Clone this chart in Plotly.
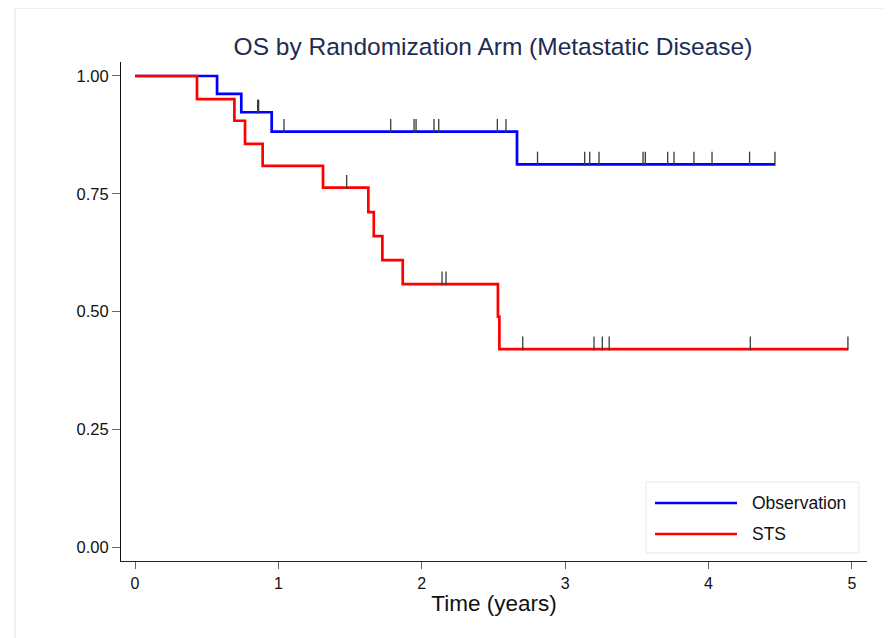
import numpy as np
import plotly.graph_objects as go

# ---------------- data ----------------
obs_times = [0.0, 0.572, 0.741, 0.953, 2.664, 4.463]
obs_surv = [1.0, 0.962, 0.923, 0.882, 0.8125, 0.8125]
obs_censor = [0.855, 0.862, 1.039, 1.783, 1.946, 1.960, 2.085, 2.118, 2.527, 2.587,
              2.807, 3.136, 3.171, 3.236, 3.543, 3.559, 3.715, 3.759, 3.898, 4.024,
              4.286, 4.463]

sts_times = [0.0, 0.432, 0.693, 0.767, 0.890, 1.311, 1.627, 1.665, 1.725, 1.867,
             2.531, 2.541, 4.972]
sts_surv = [1.0, 0.951, 0.905, 0.856, 0.809, 0.763, 0.711, 0.660, 0.609, 0.558,
            0.489, 0.420, 0.420]
sts_censor = [1.476, 2.141, 2.169, 2.704, 3.201, 3.259, 3.307, 4.291, 4.972]

x_ticks = [0, 1, 2, 3, 4, 5]
y_ticks = [0.0, 0.25, 0.5, 0.75, 1.0]
y_tick_labels = ["0.00", "0.25", "0.50", "0.75", "1.00"]
series_names = ["Observation", "STS"]
series_colors = ["#0000ff", "#ff0000"]

title_text = "OS by Randomization Arm (Metastatic Disease)"
x_title = "Time (years)"

# ---------------- layout geometry ----------------
# page shows the figure offset by the body margin (8px)
OFF = 8
W, H = 891 - OFF, 638 - OFF
ML, MT = 121 - OFF, 62 - OFF
MR = W - (867 - OFF)
MB = H - (561 - OFF)
PW, PH = W - ML - MR, H - MT - MB


def px(x):
    # x given in screenshot pixels
    return (x - OFF - ML) / PW


def py(y):
    return (H - MB - (y - OFF)) / PH


def level_at(times, surv, t):
    idx = np.searchsorted(np.asarray(times), t, side="right") - 1
    return np.asarray(surv)[idx]


fig = go.Figure()

curves = [(obs_times, obs_surv, obs_censor), (sts_times, sts_surv, sts_censor)]
for (t, s, c), name, col in zip(curves, series_names, series_colors):
    fig.add_trace(go.Scatter(
        x=t, y=s, mode="lines", line=dict(color=col, width=2.7, shape="hv"),
        name=name, showlegend=False, hoverinfo="skip"))

for (t, s, c), name in zip(curves, series_names):
    lv = np.array([level_at(t, s, ci) for ci in c])
    fig.add_trace(go.Scatter(
        x=c, y=lv + 0.012, mode="markers",
        marker=dict(symbol="line-ns-open", size=10, color="#3a3a3a",
                    line=dict(color="#3a3a3a", width=1.3)),
        showlegend=False, hoverinfo="skip", name=name + " censored"))

shapes = []
annotations = []
# outer frame
shapes.append(dict(type="rect", xref="paper", yref="paper",
                   x0=px(15), x1=px(888), y0=py(8), y1=py(700),
                   line=dict(color="#e4ebf0", width=1.5), layer="below"))
# manual legend box
shapes.append(dict(type="rect", xref="paper", yref="paper",
                   x0=px(646), x1=px(859), y0=py(482), y1=py(553),
                   line=dict(color="#e2e9ee", width=1), fillcolor="white"))
for name, col, yy in zip(series_names, series_colors, [503, 534]):
    shapes.append(dict(type="line", xref="paper", yref="paper",
                       x0=px(655), x1=px(737), y0=py(yy), y1=py(yy),
                       line=dict(color=col, width=2.7)))
    annotations.append(dict(text=name, xref="paper", yref="paper",
                            x=px(750), y=py(yy), xanchor="left", yanchor="middle",
                            showarrow=False,
                            font=dict(size=17.5, color="#111111",
                                      family="Liberation Sans, Arial, sans-serif")))

fig.update_layout(
    width=W, height=H,
    margin=dict(l=ML, r=MR, t=MT, b=MB),
    paper_bgcolor="white", plot_bgcolor="white",
    font=dict(family="Liberation Sans, Arial, sans-serif", color="#111111"),
    title=dict(text=title_text, x=px(493), xref="paper", xanchor="center",
               y=1 - (46 - OFF) / H, yref="container", yanchor="middle",
               font=dict(size=24.5, color="#1e2b52")),
    showlegend=False,
    shapes=shapes,
    annotations=annotations,
    xaxis=dict(range=[-0.098, 5.105], tickvals=x_ticks, ticktext=[str(v) for v in x_ticks],
               showgrid=False, zeroline=False, showline=True, linecolor="#222222",
               linewidth=1.2, ticks="outside", ticklen=7, tickcolor="#666666",
               tickwidth=1.2, tickfont=dict(size=16), ticklabelstandoff=1,
               title=dict(text=x_title, font=dict(size=22.5), standoff=3)),
    yaxis=dict(range=[-0.0297, 1.0297], tickvals=y_ticks, ticktext=y_tick_labels,
               showgrid=False, zeroline=False, showline=True, linecolor="#111111",
               linewidth=1.2, ticks="outside", ticklen=8, tickcolor="#666666",
               tickwidth=1.2, tickfont=dict(size=16.5)),
)

fig.write_html("out.html")
